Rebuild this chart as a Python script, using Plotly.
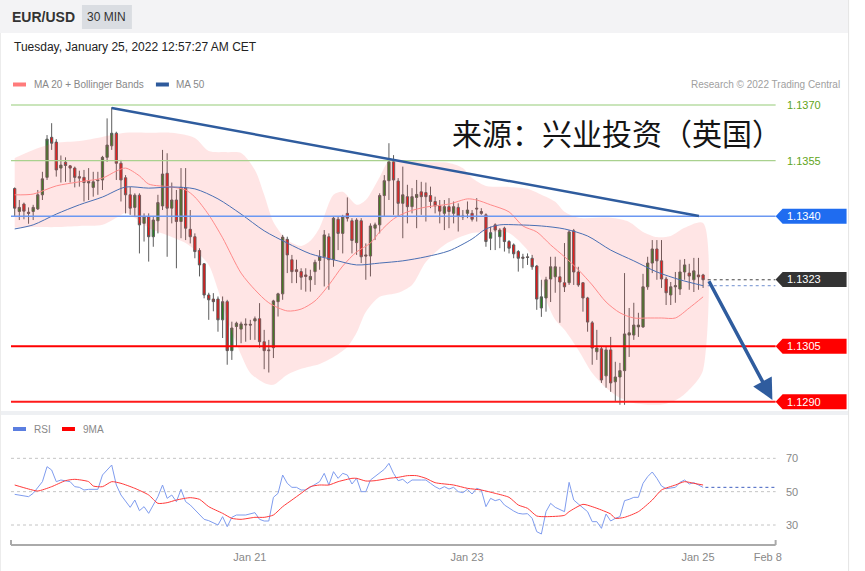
import plotly.graph_objects as go

W, H = 865, 571

# ---------------- data (EUR/USD, 30 min candles) ----------------
candle_open = [
    1.13475, 1.13413, 1.13433, 1.13411, 1.13413, 1.13420, 1.13458, 1.13505, 1.13613, 1.13600,
    1.13530, 1.13546, 1.13536, 1.13530, 1.13507, 1.13505, 1.13494, 1.13478, 1.13496, 1.13498,
    1.13559, 1.13590, 1.13624, 1.13543, 1.13504, 1.13458, 1.13424, 1.13457, 1.13381, 1.13399,
    1.13345, 1.13388, 1.13428, 1.13516, 1.13422, 1.13444, 1.13386, 1.13476, 1.13365, 1.13345,
    1.13308, 1.13272, 1.13188, 1.13177, 1.13177, 1.13121, 1.13170, 1.13038, 1.13103, 1.13096,
    1.13107, 1.13109, 1.13118, 1.13124, 1.13062, 1.13040, 1.13046, 1.13170, 1.13191, 1.13338,
    1.13283, 1.13256, 1.13251, 1.13242, 1.13229, 1.13251, 1.13281, 1.13291, 1.13345, 1.13283,
    1.13392, 1.13354, 1.13408, 1.13388, 1.13329, 1.13388, 1.13296, 1.13293, 1.13368, 1.13377,
    1.13456, 1.13496, 1.13547, 1.13495, 1.13435, 1.13453, 1.13426, 1.13451, 1.13466, 1.13464,
    1.13456, 1.13440, 1.13428, 1.13408, 1.13426, 1.13408, 1.13424, 1.13401, 1.13408, 1.13408,
    1.13422, 1.13413, 1.13404, 1.13341, 1.13377, 1.13345, 1.13368, 1.13332, 1.13323, 1.13305,
    1.13290, 1.13291, 1.13287, 1.13266, 1.13153, 1.13180, 1.13231, 1.13237, 1.13237, 1.13221,
    1.13221, 1.13361, 1.13250, 1.13221, 1.13180, 1.13113, 1.13035, 1.13043, 1.12970, 1.13040,
    1.12954, 1.12967, 1.12984, 1.13080, 1.13080, 1.13102, 1.13102, 1.13210, 1.13274, 1.13312,
    1.13280, 1.13231, 1.13188, 1.13210, 1.13204, 1.13250, 1.13247, 1.13229, 1.13242, 1.13242,
]
candle_high = [
    1.13478, 1.13444, 1.13437, 1.13424, 1.13431, 1.13471, 1.13520, 1.13619, 1.13651, 1.13608,
    1.13564, 1.13559, 1.13538, 1.13534, 1.13523, 1.13525, 1.13530, 1.13520, 1.13520, 1.13563,
    1.13664, 1.13694, 1.13628, 1.13552, 1.13511, 1.13479, 1.13462, 1.13462, 1.13408, 1.13408,
    1.13399, 1.13458, 1.13579, 1.13570, 1.13491, 1.13471, 1.13530, 1.13530, 1.13417, 1.13354,
    1.13314, 1.13274, 1.13194, 1.13193, 1.13184, 1.13184, 1.13175, 1.13116, 1.13116, 1.13116,
    1.13125, 1.13121, 1.13130, 1.13166, 1.13094, 1.13067, 1.13175, 1.13194, 1.13350, 1.13345,
    1.13296, 1.13283, 1.13260, 1.13260, 1.13256, 1.13283, 1.13309, 1.13363, 1.13354, 1.13399,
    1.13399, 1.13404, 1.13451, 1.13395, 1.13395, 1.13395, 1.13327, 1.13381, 1.13383, 1.13462,
    1.13511, 1.13597, 1.13565, 1.13503, 1.13534, 1.13485, 1.13476, 1.13498, 1.13493, 1.13491,
    1.13480, 1.13453, 1.13444, 1.13444, 1.13449, 1.13440, 1.13435, 1.13417, 1.13440, 1.13417,
    1.13449, 1.13422, 1.13408, 1.13372, 1.13381, 1.13368, 1.13372, 1.13336, 1.13327, 1.13309,
    1.13299, 1.13300, 1.13296, 1.13269, 1.13229, 1.13237, 1.13291, 1.13291, 1.13264, 1.13328,
    1.13363, 1.13366, 1.13264, 1.13223, 1.13183, 1.13118, 1.13094, 1.13048, 1.13048, 1.13075,
    1.13008, 1.13005, 1.13247, 1.13153, 1.13167, 1.13140, 1.13245, 1.13291, 1.13336, 1.13336,
    1.13336, 1.13237, 1.13223, 1.13250, 1.13283, 1.13285, 1.13272, 1.13288, 1.13288, 1.13245,
]
candle_low = [
    1.13399, 1.13390, 1.13392, 1.13380, 1.13390, 1.13417, 1.13444, 1.13498, 1.13579, 1.13507,
    1.13491, 1.13493, 1.13491, 1.13478, 1.13480, 1.13440, 1.13444, 1.13453, 1.13458, 1.13471,
    1.13547, 1.13579, 1.13498, 1.13440, 1.13408, 1.13404, 1.13399, 1.13300, 1.13332, 1.13278,
    1.13318, 1.13354, 1.13417, 1.13291, 1.13381, 1.13260, 1.13341, 1.13336, 1.13327, 1.13287,
    1.13238, 1.13179, 1.13121, 1.13144, 1.13089, 1.13072, 1.13000, 1.13013, 1.13049, 1.13058,
    1.13062, 1.13067, 1.13067, 1.13046, 1.12988, 1.12979, 1.13018, 1.13130, 1.13175, 1.13247,
    1.13220, 1.13220, 1.13202, 1.13197, 1.13197, 1.13215, 1.13256, 1.13211, 1.13202, 1.13264,
    1.13309, 1.13300, 1.13386, 1.13300, 1.13296, 1.13274, 1.13229, 1.13238, 1.13336, 1.13354,
    1.13399, 1.13444, 1.13404, 1.13399, 1.13341, 1.13381, 1.13408, 1.13368, 1.13404, 1.13386,
    1.13422, 1.13408, 1.13381, 1.13363, 1.13368, 1.13381, 1.13359, 1.13390, 1.13395, 1.13386,
    1.13386, 1.13404, 1.13318, 1.13309, 1.13309, 1.13314, 1.13305, 1.13300, 1.13287, 1.13251,
    1.13260, 1.13269, 1.13256, 1.13148, 1.13129, 1.13143, 1.13169, 1.13194, 1.13113, 1.13196,
    1.13215, 1.13215, 1.13210, 1.13143, 1.13089, 1.13000, 1.13013, 1.12951, 1.12938, 1.12927,
    1.12900, 1.12892, 1.12892, 1.13021, 1.13067, 1.13075, 1.13099, 1.13202, 1.13247, 1.13229,
    1.13207, 1.13161, 1.13161, 1.13167, 1.13188, 1.13229, 1.13202, 1.13196, 1.13202, 1.13207,
]
candle_close = [
    1.13422, 1.13424, 1.13414, 1.13408, 1.13424, 1.13458, 1.13501, 1.13608, 1.13597, 1.13525,
    1.13538, 1.13537, 1.13530, 1.13505, 1.13503, 1.13491, 1.13490, 1.13493, 1.13498, 1.13559,
    1.13592, 1.13624, 1.13543, 1.13498, 1.13458, 1.13422, 1.13457, 1.13377, 1.13399, 1.13345,
    1.13390, 1.13437, 1.13514, 1.13422, 1.13444, 1.13386, 1.13478, 1.13368, 1.13345, 1.13305,
    1.13269, 1.13188, 1.13175, 1.13170, 1.13121, 1.13170, 1.13038, 1.13099, 1.13112, 1.13110,
    1.13109, 1.13107, 1.13124, 1.13062, 1.13038, 1.13038, 1.13172, 1.13191, 1.13344, 1.13296,
    1.13251, 1.13251, 1.13236, 1.13238, 1.13238, 1.13276, 1.13291, 1.13350, 1.13283, 1.13395,
    1.13354, 1.13399, 1.13395, 1.13335, 1.13390, 1.13291, 1.13293, 1.13374, 1.13377, 1.13456,
    1.13496, 1.13547, 1.13498, 1.13435, 1.13458, 1.13426, 1.13453, 1.13459, 1.13453, 1.13453,
    1.13440, 1.13428, 1.13414, 1.13426, 1.13413, 1.13426, 1.13401, 1.13399, 1.13417, 1.13392,
    1.13420, 1.13408, 1.13332, 1.13356, 1.13363, 1.13363, 1.13332, 1.13314, 1.13299, 1.13287,
    1.13287, 1.13289, 1.13264, 1.13177, 1.13183, 1.13229, 1.13264, 1.13264, 1.13223, 1.13210,
    1.13358, 1.13250, 1.13215, 1.13180, 1.13115, 1.13045, 1.13045, 1.12959, 1.13040, 1.12951,
    1.12967, 1.12984, 1.13083, 1.13086, 1.13107, 1.13107, 1.13210, 1.13274, 1.13312, 1.13280,
    1.13231, 1.13194, 1.13210, 1.13213, 1.13250, 1.13269, 1.13239, 1.13253, 1.13237, 1.13229,
]
candle_index = list(range(1, len(candle_close) + 1))

# Bollinger bands (MA20 +/- 2 sd), read at sample candles
bb_upper_idx = [1, 5, 10, 15, 20, 25, 30, 35, 40, 43, 47, 50, 53, 55, 57, 60, 63, 65, 67, 70,
                72, 75, 77, 80, 82, 85, 90, 95, 98, 100, 103, 108, 112, 115, 118, 120, 123, 130,
                134, 137, 140, 143, 146, 150]
bb_upper = [1.13557, 1.13579, 1.13598, 1.13603, 1.13614, 1.13625, 1.13625, 1.13625, 1.13611,
            1.13576, 1.13573, 1.13571, 1.13525, 1.13458, 1.13385, 1.13336, 1.13320, 1.13334,
            1.13369, 1.13458, 1.13466, 1.13431, 1.13444, 1.13506, 1.13549, 1.13552, 1.13546,
            1.13544, 1.13530, 1.13503, 1.13482, 1.13479, 1.13474, 1.13458, 1.13439, 1.13412,
            1.13396, 1.13396, 1.13385, 1.13358, 1.13344, 1.13347, 1.13369, 1.13382]
bb_lower_idx = [1, 5, 10, 15, 20, 23, 25, 27, 30, 35, 38, 40, 43, 45, 47, 50, 52, 55, 57, 60,
                63, 67, 70, 73, 75, 77, 80, 84, 87, 90, 94, 97, 100, 105, 108, 112, 114, 116,
                118, 120, 123, 126, 129, 132, 135, 139, 142, 145, 148, 150]
bb_lower = [1.13369, 1.13371, 1.13371, 1.13374, 1.13377, 1.13396, 1.13409, 1.13396, 1.13369,
            1.13344, 1.13328, 1.13309, 1.13269, 1.13202, 1.13121, 1.13027, 1.12978, 1.12951,
            1.12946, 1.12973, 1.12989, 1.13002, 1.13021, 1.13048, 1.13086, 1.13142, 1.13183,
            1.13194, 1.13215, 1.13277, 1.13323, 1.13342, 1.13355, 1.13358, 1.13355, 1.13309,
            1.13269, 1.13175, 1.13121, 1.13094, 1.13040, 1.12978, 1.12938, 1.12911, 1.12897,
            1.12892, 1.12895, 1.12911, 1.12946, 1.12986]
ma20_idx = [1, 5, 10, 15, 20, 23, 25, 28, 30, 35, 38, 40, 43, 46, 50, 53, 56, 60, 63, 66, 69,
            72, 75, 78, 80, 83, 86, 90, 95, 99, 101, 104, 108, 111, 114, 117, 120, 123, 126,
            129, 132, 135, 138, 141, 144, 147, 150]
ma20 = [1.13458, 1.13460, 1.13482, 1.13493, 1.13503, 1.13522, 1.13530, 1.13509, 1.13487,
        1.13479, 1.13471, 1.13452, 1.13404, 1.13342, 1.13247, 1.13202, 1.13167, 1.13145,
        1.13150, 1.13172, 1.13215, 1.13266, 1.13304, 1.13328, 1.13358, 1.13393, 1.13412,
        1.13425, 1.13433, 1.13447, 1.13444, 1.13431, 1.13412, 1.13374, 1.13358, 1.13323,
        1.13291, 1.13256, 1.13215, 1.13169, 1.13140, 1.13126, 1.13126, 1.13126, 1.13126,
        1.13153, 1.13183]
ma50_idx = [1, 5, 10, 15, 20, 25, 30, 35, 40, 45, 50, 55, 60, 65, 70, 75, 80, 85, 90, 95, 100,
            103, 106, 110, 115, 120, 125, 130, 135, 140, 145, 150]
ma50 = [1.13366, 1.13377, 1.13406, 1.13431, 1.13452, 1.13479, 1.13476, 1.13479, 1.13474,
        1.13447, 1.13406, 1.13361, 1.13328, 1.13299, 1.13283, 1.13269, 1.13274, 1.13280,
        1.13291, 1.13307, 1.13339, 1.13366, 1.13377, 1.13377, 1.13374, 1.13366, 1.13347,
        1.13309, 1.13280, 1.13250, 1.13229, 1.13213]

# RSI and its 9-period MA, read at candles
rsi_idx = [1, 2, 4, 5, 7, 8, 9, 10, 11, 13, 14, 15, 16, 17, 19, 20, 21, 22, 23, 24, 26, 27, 28,
           29, 30, 31, 32, 33, 34, 35, 36, 37, 38, 39, 40, 42, 43, 45, 46, 47, 48, 49, 51, 53,
           54, 55, 56, 57, 58, 59, 60, 61, 62, 63, 64, 66, 67, 68, 69, 70, 71, 72, 73, 74, 75,
           76, 77, 78, 80, 81, 82, 83, 84, 85, 86, 87, 89, 90, 91, 92, 93, 94, 95, 96, 97, 98,
           99, 100, 101, 102, 103, 104, 105, 106, 107, 108, 109, 110, 111, 112, 113, 114, 115,
           116, 117, 118, 119, 120, 121, 122, 123, 124, 125, 126, 127, 128, 129, 130, 131, 132,
           133, 134, 135, 136, 137, 138, 139, 140, 141, 142, 143, 144, 145, 146, 147, 148, 149,
           150]
rsi = [48.4, 48, 47, 49, 56, 65, 63, 56, 57, 56, 53, 52.6, 51, 51.4, 51.4, 60, 63, 66, 54, 48,
       40.6, 45, 38.6, 41, 37, 42, 47, 54, 46, 48, 44, 51.4, 44, 42, 39, 33.4, 32.6, 30, 35, 29,
       34.6, 36, 36, 37.4, 33.4, 32.4, 32.4, 46.6, 49, 60, 55, 52.6, 52.6, 51, 51, 54, 56, 61,
       54, 62, 58, 61, 60, 54.6, 58, 50, 50, 57, 61, 63.4, 67, 61, 56.6, 57.4, 55, 57, 57, 57,
       55, 53, 51.6, 53, 51.6, 52.6, 50, 49.4, 51.4, 48.6, 52, 51, 41, 46, 44.6, 45.4, 42, 40,
       38.4, 37, 36.6, 36.8, 34, 26, 24.6, 38, 43, 40.6, 39.4, 38, 55.6, 45, 42.6, 40, 38, 32,
       32, 28, 36.6, 32.4, 34, 35, 44.6, 45.4, 46.6, 46.6, 55, 59, 61.8, 58, 53.4, 51.8, 52,
       52.6, 55.6, 57, 54.6, 55.4, 54, 52.6]
rsi_ma_idx = [1, 4, 6, 9, 12, 14, 17, 18, 20, 22, 24, 27, 30, 32, 34, 36, 39, 41, 43, 46, 48,
              50, 53, 55, 57, 59, 61, 63, 65, 67, 69, 71, 74, 75, 77, 79, 82, 84, 86, 88, 90, 92,
              96, 99, 102, 105, 108, 110, 112, 114, 116, 120, 121, 124, 126, 128, 130, 131, 133,
              136, 139, 141, 144, 146, 148, 150]
rsi_ma9 = [54, 51.6, 50.4, 53, 56.6, 57.4, 56, 53.4, 53, 56, 55, 52, 48, 43, 43.4, 45, 46.4,
           45.4, 41, 37, 34, 33.4, 34.6, 34.6, 36, 41, 45, 49, 53, 54, 54, 56, 58, 58, 56.4, 56.6,
           58, 58.6, 59.6, 59.6, 58, 55.4, 54, 52, 51, 49, 46.6, 42, 40, 35.4, 35, 35.8, 38, 42.4,
           41, 39, 36.6, 34, 34.6, 38, 45, 51, 54, 56, 55, 54]

# key levels
levels = [1.1370, 1.1355, 1.1340, 1.1323, 1.1305, 1.1290]
level_labels = ["1.1370", "1.1355", "1.1340", "1.1323", "1.1305", "1.1290"]
trend_x = [22, 149.1]
trend_y = [1.13692, 1.13401]
arrow_from = (151.1, 1.13229)
arrow_to = (165.0, 1.12905)

tick_labels = ["Jan 21", "Jan 23", "Jan 25", "Feb 8"]
tick_pos = [51.9, 98.9, 148.9, 164.0]

# ---------------- layout geometry (pixels) ----------------
PX0, PX1 = 11, 776
P_TOP, P_BOT = 95, 410
R_TOP, R_BOT = 440, 545
X_RANGE = [0.2, 165.7]
P_RANGE = [1.12878, 1.13727]
R_RANGE = [18, 81]
SX = 1.0065  # small horizontal correction

def fx(px):
    return px * SX / W

def fy(py):
    return 1 - py / H

def price_py(p):
    return P_TOP + (P_RANGE[1] - p) / (P_RANGE[1] - P_RANGE[0]) * (P_BOT - P_TOP)

FONT = "Liberation Sans, Arial, sans-serif"

fig = go.Figure()

fig.add_trace(go.Scatter(
    x=bb_upper_idx + bb_lower_idx[::-1], y=bb_upper + bb_lower[::-1],
    fill="toself", fillcolor="rgba(255,80,80,0.15)", line=dict(width=0, shape="spline", smoothing=0.8),
    mode="lines", hoverinfo="skip", showlegend=False, xaxis="x", yaxis="y"))
fig.add_trace(go.Scatter(x=ma20_idx, y=ma20, mode="lines",
                         line=dict(color="#ff8a8a", width=1, shape="spline", smoothing=0.8),
                         showlegend=False, xaxis="x", yaxis="y"))
fig.add_trace(go.Scatter(x=ma50_idx, y=ma50, mode="lines",
                         line=dict(color="#4a6fb3", width=1, shape="spline", smoothing=0.8),
                         showlegend=False, xaxis="x", yaxis="y"))
fig.add_trace(go.Candlestick(
    x=candle_index, open=candle_open, high=candle_high, low=candle_low, close=candle_close,
    increasing=dict(fillcolor="#26801f", line=dict(color="#5c5c5c", width=1)),
    decreasing=dict(fillcolor="#ee1111", line=dict(color="#5c5c5c", width=1)),
    whiskerwidth=0, showlegend=False, xaxis="x", yaxis="y"))

fig.add_trace(go.Scatter(x=rsi_idx, y=rsi, mode="lines",
                         line=dict(color="#7f9cee", width=1), showlegend=False,
                         xaxis="x", yaxis="y2"))
fig.add_trace(go.Scatter(x=rsi_ma_idx, y=rsi_ma9, mode="lines",
                         line=dict(color="#ff3a3a", width=1, shape="spline", smoothing=0.6),
                         showlegend=False, xaxis="x", yaxis="y2"))

shapes = []
shapes.append(dict(type="rect", xref="paper", yref="paper", x0=0, x1=fx(849), y0=fy(33), y1=1,
                   fillcolor="#f3f3f5", line=dict(width=0), layer="below"))
shapes.append(dict(type="rect", xref="paper", yref="paper", x0=fx(82), x1=fx(132), y0=fy(29), y1=fy(5),
                   fillcolor="#dadde2", line=dict(width=0), layer="below"))
shapes.append(dict(type="rect", xref="paper", yref="paper", x0=0, x1=fx(849), y0=fy(415), y1=fy(411),
                   fillcolor="#eef0f3", line=dict(width=0), layer="below"))
shapes.append(dict(type="line", xref="paper", yref="paper", x0=fx(849), x1=fx(849), y0=0, y1=1,
                   line=dict(color="#e4e4e4", width=1)))
shapes.append(dict(type="line", xref="paper", yref="paper", x0=fx(0.5), x1=fx(0.5), y0=0, y1=fy(33),
                   line=dict(color="#ececec", width=1)))

shapes.append(dict(type="rect", xref="paper", yref="paper", x0=fx(13), x1=fx(26), y0=fy(86.5), y1=fy(82.5),
                   fillcolor="#ff7b7b", line=dict(width=0)))
shapes.append(dict(type="rect", xref="paper", yref="paper", x0=fx(156), x1=fx(169), y0=fy(86.5), y1=fy(82.5),
                   fillcolor="#2e5a9c", line=dict(width=0)))
shapes.append(dict(type="rect", xref="paper", yref="paper", x0=fx(13), x1=fx(26), y0=fy(431), y1=fy(427),
                   fillcolor="#5b7ee0", line=dict(width=0)))
shapes.append(dict(type="rect", xref="paper", yref="paper", x0=fx(62), x1=fx(75), y0=fy(431), y1=fy(427),
                   fillcolor="#ff0000", line=dict(width=0)))

level_style = {
    "1.1370": ("#b9dca5", 1.5), "1.1355": ("#a9d18e", 1.2), "1.1340": ("#6b98f2", 1.5),
    "1.1305": ("#ff0000", 2), "1.1290": ("#ff1a1a", 2),
}
for lv, lab in zip(levels, level_labels):
    if lab in level_style:
        col, wd = level_style[lab]
        shapes.append(dict(type="line", xref="paper", yref="y", x0=fx(PX0), x1=fx(PX1), y0=lv, y1=lv,
                           line=dict(color=col, width=wd), layer="above"))

shapes.append(dict(type="line", xref="x", yref="y", x0=candle_index[-1] + 1, x1=X_RANGE[1],
                   y0=candle_close[-1], y1=candle_close[-1], line=dict(color="#444", width=1, dash="dot")))
shapes.append(dict(type="line", xref="x", yref="y", x0=candle_index[-1] + 1, x1=X_RANGE[1],
                   y0=ma50[-1], y1=ma50[-1], line=dict(color="#6f8fcf", width=1, dash="dot")))
shapes.append(dict(type="line", xref="x", yref="y2", x0=rsi_idx[-1] + 0.5, x1=X_RANGE[1],
                   y0=rsi[-1], y1=rsi[-1], line=dict(color="#4060c0", width=1, dash="dot")))

for g in [70, 50, 30]:
    shapes.append(dict(type="line", xref="paper", yref="y2", x0=fx(PX0), x1=fx(PX1), y0=g, y1=g,
                       line=dict(color="#c4c4c4", width=1, dash="dot"), layer="below"))

shapes.append(dict(type="line", xref="paper", yref="paper", x0=fx(PX0), x1=fx(PX1), y0=fy(545), y1=fy(545),
                   line=dict(color="#aaaaaa", width=2)))
for xp in (PX0, PX1):
    shapes.append(dict(type="line", xref="paper", yref="paper", x0=fx(xp), x1=fx(xp), y0=fy(545), y1=fy(540),
                       line=dict(color="#aaaaaa", width=2)))

shapes.append(dict(type="line", xref="x", yref="y", x0=trend_x[0], x1=trend_x[1], y0=trend_y[0], y1=trend_y[1],
                   line=dict(color="#2f5c9e", width=2.5), layer="above"))

tag_colors = {"1.1340": "#1f6cf0", "1.1323": "#333333", "1.1305": "#ff0000", "1.1290": "#ff0000"}
annotations = []
for lv, lab in zip(levels, level_labels):
    yc = price_py(lv)
    if lab in tag_colors:
        path = (f"M {fx(776)},{fy(yc)} L {fx(783)},{fy(yc - 7.5)} L {fx(847)},{fy(yc - 7.5)} "
                f"L {fx(847)},{fy(yc + 7.5)} L {fx(783)},{fy(yc + 7.5)} Z")
        shapes.append(dict(type="path", xref="paper", yref="paper", path=path,
                           fillcolor=tag_colors[lab], line=dict(width=0), layer="above"))
        annotations.append(dict(text=lab, xref="paper", yref="paper", x=fx(785), y=fy(yc),
                                xanchor="left", yanchor="middle", showarrow=False,
                                font=dict(family=FONT, size=11, color="white")))
    else:
        annotations.append(dict(text=lab, xref="paper", yref="paper", x=fx(785), y=fy(yc),
                                xanchor="left", yanchor="middle", showarrow=False,
                                font=dict(family=FONT, size=11, color="#5fa521")))

annotations.append(dict(x=arrow_to[0], y=arrow_to[1], ax=arrow_from[0], ay=arrow_from[1],
                        xref="x", yref="y", axref="x", ayref="y", text="", showarrow=True,
                        arrowhead=2, arrowsize=1.2, arrowwidth=3.5, arrowcolor="#2f5c9e"))

def txt(s, xp, yp, size, color, anchor="left", bold=False, family=FONT):
    annotations.append(dict(text=(f"<b>{s}</b>" if bold else s), xref="paper", yref="paper",
                            x=fx(xp), y=fy(yp), xanchor=anchor, yanchor="middle", showarrow=False,
                            font=dict(family=family, size=size, color=color)))

txt("EUR/USD", 10, 17, 14, "#333333", bold=True)
txt("30 MIN", 107, 17, 12, "#333333", anchor="center")
txt("Tuesday, January 25, 2022 12:57:27 AM CET", 12, 47, 12, "#222222")
txt("MA 20 + Bollinger Bands", 32, 84, 10, "#888888")
txt("MA 50", 174, 84, 10, "#888888")
txt("Research © 2022 Trading Central", 842, 84, 10, "#a0a0a0", anchor="right")
txt("RSI", 32, 429, 10, "#888888")
txt("9MA", 81, 429, 10, "#888888")
txt("来源：兴业投资（英国）", 450, 132, 30, "#151515", family="Noto Sans CJK SC")
for g in [70, 50, 30]:
    annotations.append(dict(text=str(g), xref="paper", yref="y2", x=fx(784), y=g, xanchor="left",
                            yanchor="middle", showarrow=False,
                            font=dict(family=FONT, size=11, color="#888888")))

fig.update_layout(
    width=W, height=H, margin=dict(l=0, r=0, t=0, b=0),
    paper_bgcolor="white", plot_bgcolor="rgba(0,0,0,0)",
    showlegend=False, hovermode=False,
    xaxis=dict(domain=[fx(PX0), fx(PX1)], range=X_RANGE, anchor="y2", showgrid=False, zeroline=False,
               showline=False, rangeslider=dict(visible=False), tickmode="array",
               tickvals=tick_pos, ticktext=tick_labels, ticks="", ticklabelstandoff=4,
               tickfont=dict(family=FONT, size=11, color="#888888")),
    yaxis=dict(domain=[fy(P_BOT), fy(P_TOP)], range=P_RANGE, showgrid=False, zeroline=False,
               showticklabels=False, fixedrange=True),
    yaxis2=dict(domain=[fy(R_BOT), fy(R_TOP)], range=R_RANGE, showgrid=False, zeroline=False,
                showticklabels=False, fixedrange=True),
    shapes=shapes, annotations=annotations,
)

fig.write_html(
    "out.html",
    config={"displayModeBar": False},
    post_script="document.body.style.margin='0';document.documentElement.style.overflow='hidden';",
)
